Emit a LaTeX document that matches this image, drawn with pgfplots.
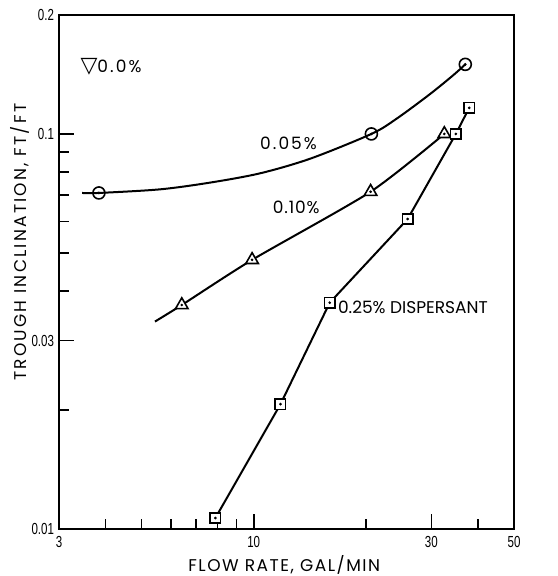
\documentclass[border=0pt]{standalone}
\usepackage{fontspec}
\setmainfont{Poppins}
\newfontfamily\tickfont[FakeStretch=0.72]{Liberation Sans}
\newfontfamily\symfont{DejaVu Sans}
\usepackage{pgfplots}
\usepackage{pgfplotstable}
\pgfplotsset{compat=1.18}

% flow rate (gal/min) vs trough inclination (ft/ft)
\pgfplotstableread{
x y
3.84 0.0709
20.7 0.100
37.0 0.150
}\circdata
\pgfplotstableread{
x y
3.46 0.0709
3.84 0.0709
5.60 0.0724
7.63 0.0753
10.4 0.0795
14.2 0.0866
20.7 0.100
24.2 0.1093
29.7 0.126
34.4 0.141
37.0 0.150
}\circline
\pgfplotstableread{
x y
6.41 0.0369
9.9  0.0480
20.6 0.0714
32.5 0.100
}\tridata
\pgfplotstableread{
x y
5.43 0.0335
6.41 0.0369
9.9  0.0480
20.6 0.0714
32.5 0.100
}\triline
\pgfplotstableread{
x y
7.89 0.01066
11.8 0.0207
16.0 0.0374
25.9 0.0609
34.9 0.100
37.9 0.1164
}\sqdata

\begin{document}
\begin{tikzpicture}
\begin{axis}[at={(0,0)},anchor=south west,
  scale only axis,width=227.5pt,height=257pt,
  xmode=log,ymode=log,
  xmin=3,xmax=50,ymin=0.01,ymax=0.2,
  axis line style={line width=1.1pt},
  xtick={3,10,30,50},xticklabels={3,10,30,50},
  minor xtick={4,5,6,7,8,9,20,40},
  ytick={0.01,0.03,0.1,0.2},yticklabels={0.01,0.03,0.1,0.2},
  minor ytick={0.02,0.04,0.05,0.06,0.07,0.08,0.09},
  tick align=inside,xtick pos=bottom,ytick pos=left,
  major tick length=7.5pt,minor tick length=5pt,
  tick style={line width=0.8pt,black},
  tick label style={font=\tickfont\fontsize{8}{8}\selectfont},
  yticklabel style={xshift=1pt},
  xlabel={FLOW RATE, GAL/MIN},
  ylabel={TROUGH INCLINATION, FT/FT},
  label style={font=\fontsize{8.5}{9}\selectfont\addfontfeature{LetterSpace=9}},
  xlabel style={at={(axis description cs:0.495,-0.07)},anchor=center},
  ylabel style={at={(axis description cs:-0.086,0.558)},anchor=center,
    font=\fontsize{8.5}{9}\selectfont\addfontfeature{LetterSpace=13}},
  clip=false]

\addplot[line width=1pt,smooth,tension=0.5,no markers] table {\circline};
\addplot[line width=1pt,smooth,tension=0.4,no markers] table {\triline};
\addplot[line width=1pt,sharp plot,no markers] table {\sqdata};

\addplot[only marks,mark=o,mark size=3pt,mark options={line width=0.8pt,fill=white}] table {\circdata};
\addplot[only marks,mark=triangle*,mark size=3.6pt,mark options={line width=0.8pt,fill=white,draw=black}] table {\tridata};
\addplot[only marks,mark=square*,mark size=2.6pt,mark options={line width=0.8pt,fill=white,draw=black}] table {\sqdata};

\addplot[only marks,mark=*,mark size=0.45pt] table {\circdata};
\addplot[only marks,mark=*,mark size=0.45pt] table {\tridata};
\addplot[only marks,mark=*,mark size=0.45pt] table {\sqdata};

\node[anchor=west,inner sep=0pt,font=\fontsize{8.5}{9}\selectfont\addfontfeature{LetterSpace=12}] at (axis cs:3.42,0.1478) {{\symfont\fontsize{11}{11}\selectfont ▽}0.0\%};
\node[font=\fontsize{8.5}{9}\selectfont\addfontfeature{LetterSpace=12}] at (axis cs:12.4,0.0949) {0.05\%};
\node[font=\fontsize{8.5}{9}\selectfont\addfontfeature{LetterSpace=5}] at (axis cs:13.0,0.0653) {0.10\%};
\node[anchor=west,inner sep=0pt,font=\fontsize{8.5}{9}\selectfont] at (axis cs:16.8,0.0365) {0.25\% DISPERSANT};
\end{axis}
\pgfresetboundingbox
\path[use as bounding box] (-29.5pt,-23.5pt) rectangle (249pt,264.5pt);
\end{tikzpicture}
\end{document}
